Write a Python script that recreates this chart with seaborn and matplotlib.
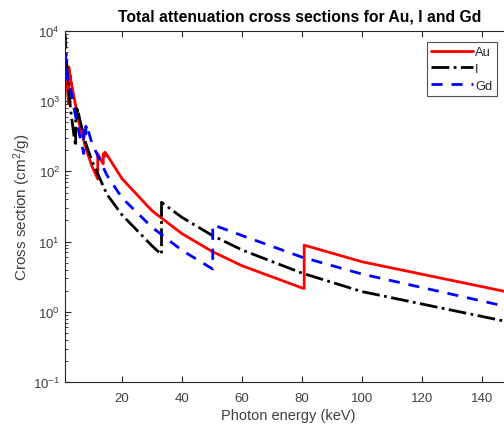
import numpy as np
import pandas as pd
import matplotlib
matplotlib.use("Agg")
import matplotlib.pyplot as plt
import seaborn as sns
from matplotlib.ticker import LogLocator, NullFormatter, FixedLocator

# ---------------- data ----------------
au_energy = [1, 1.5, 2, 2.206, 2.206, 2.248, 2.291, 2.291, 2.507, 2.743, 2.743, 3,
             3.148, 3.148, 3.425, 3.425, 4, 5, 6, 8, 10, 11.919, 11.919, 12.785,
             13.734, 13.734, 14.353, 14.353, 15, 20, 30, 40, 50, 60, 80, 80.725,
             80.725, 100, 150]
au_mu = [4652, 2089, 1137, 919, 997, 2087, 2476, 3070, 2565, 2085, 2354, 1931,
         1718, 1794, 1502, 1537, 1150, 680, 430, 210, 118, 78, 178, 150,
         128, 178, 165, 188, 172, 78.8, 27.5, 12.96, 7.26, 4.53, 2.19, 2.15,
         8.90, 5.16, 1.86]

i_energy = [1, 1.072, 1.072, 1.5, 2, 3, 4, 4.557, 4.557, 4.852, 4.852, 5, 5.188,
            5.188, 6, 8, 10, 15, 20, 30, 33.169, 33.169, 40, 50, 60, 80, 100, 150]
i_mu = [9096, 7700, 8100, 3900, 1900, 680, 320, 228, 660, 570, 790, 740, 670,
        780, 530, 245, 140, 47, 24, 8.7, 6.55, 36.3, 22.1, 12.3, 7.6, 3.56, 1.94, 0.70]

gd_energy = [1, 1.185, 1.185, 1.217, 1.217, 1.544, 1.544, 1.688, 1.688, 1.881, 1.881,
             2, 3, 4, 5, 6, 7.243, 7.243, 7.930, 7.930, 8, 8.376, 8.376, 10, 15, 20,
             30, 40, 50, 50.239, 50.239, 60, 80, 100, 150]
gd_mu = [4800, 3300, 3500, 3300, 4600, 2500, 2900, 2300, 2600, 2000, 2150,
         1900, 1400, 800, 480, 310, 180, 430, 340, 440, 430, 390, 430, 250, 88, 42,
         16, 7.5, 4.12, 4.07, 17.4, 12.2, 6.0, 3.45, 1.14]

series_names = ["Au", "I", "Gd"]
x_ticks = [20, 40, 60, 80, 100, 120, 140]

# ---------------- style ----------------
sns.set_style("ticks")
plt.rcParams["font.family"] = ["Liberation Sans", "DejaVu Sans"]
plt.rcParams["mathtext.fontset"] = "custom"
plt.rcParams["mathtext.rm"] = "Liberation Sans"
plt.rcParams["mathtext.it"] = "Liberation Sans:italic"
plt.rcParams["mathtext.bf"] = "Liberation Sans:bold"

W, H = 504, 427
fig = plt.figure(figsize=(W / 100, H / 100), dpi=100)
left_px, right_px, top_px, bottom_px = 65, 512, 32, 383
ax = fig.add_axes([left_px / W, 1 - bottom_px / H,
                   (right_px - left_px) / W, (bottom_px - top_px) / H])

frames = []
for name, e, m in zip(series_names, [au_energy, i_energy, gd_energy], [au_mu, i_mu, gd_mu]):
    frames.append(pd.DataFrame({"energy": e, "mu": m, "element": name}))

styles = {"Au": dict(color="#ff0000", linestyle="-"),
          "I": dict(color="black", linestyle="-."),
          "Gd": dict(color="#0000ff", linestyle=(0, (4, 3.2)))}

for df in frames:
    name = df["element"].iloc[0]
    sns.lineplot(data=df, x="energy", y="mu", ax=ax, sort=False, estimator=None,
                 linewidth=2, label=name, **styles[name])

ax.set_yscale("log")
ax.set_xlim(1, 150)
ax.set_ylim(0.1, 1e4)
ax.xaxis.set_major_locator(FixedLocator(x_ticks))
ax.yaxis.set_major_locator(LogLocator(base=10, numticks=10))
ax.yaxis.set_minor_locator(LogLocator(base=10, subs=np.arange(2, 10), numticks=20))
ax.yaxis.set_minor_formatter(NullFormatter())

gray = "#262626"
for s in ["top", "left", "bottom", "right"]:
    ax.spines[s].set_visible(True)
    ax.spines[s].set_color(gray)
    ax.spines[s].set_linewidth(0.8)
ax.tick_params(axis="both", which="both", direction="in", top=True, right=True,
               colors=gray, labelcolor="#404040", labelsize=9.5)
ax.tick_params(axis="x", which="major", pad=7)
ax.tick_params(axis="both", which="major", length=4)
ax.tick_params(axis="both", which="minor", length=2)

ax.set_xlabel("Photon energy (keV)", fontsize=10.5, color="#404040", labelpad=3)
ax.set_ylabel("Cross section (cm$^2$/g)", fontsize=11, color="#404040", labelpad=0)
fig.text(300 / W, 1 - 17 / H,
         "Total attenuation cross sections for Au, I and Gd",
         ha="center", va="center", fontsize=11.3, fontweight="bold", color="black")

leg = ax.legend(loc="upper right", bbox_to_anchor=(0.966, 0.969), borderaxespad=0,
                fontsize=9.3, handlelength=3.2, handletextpad=0.2, labelspacing=0.35,
                borderpad=0.35, frameon=True, fancybox=False)
leg.get_frame().set_edgecolor("#262626")
leg.get_frame().set_linewidth(0.8)

fig.savefig("out.png", dpi=100)
